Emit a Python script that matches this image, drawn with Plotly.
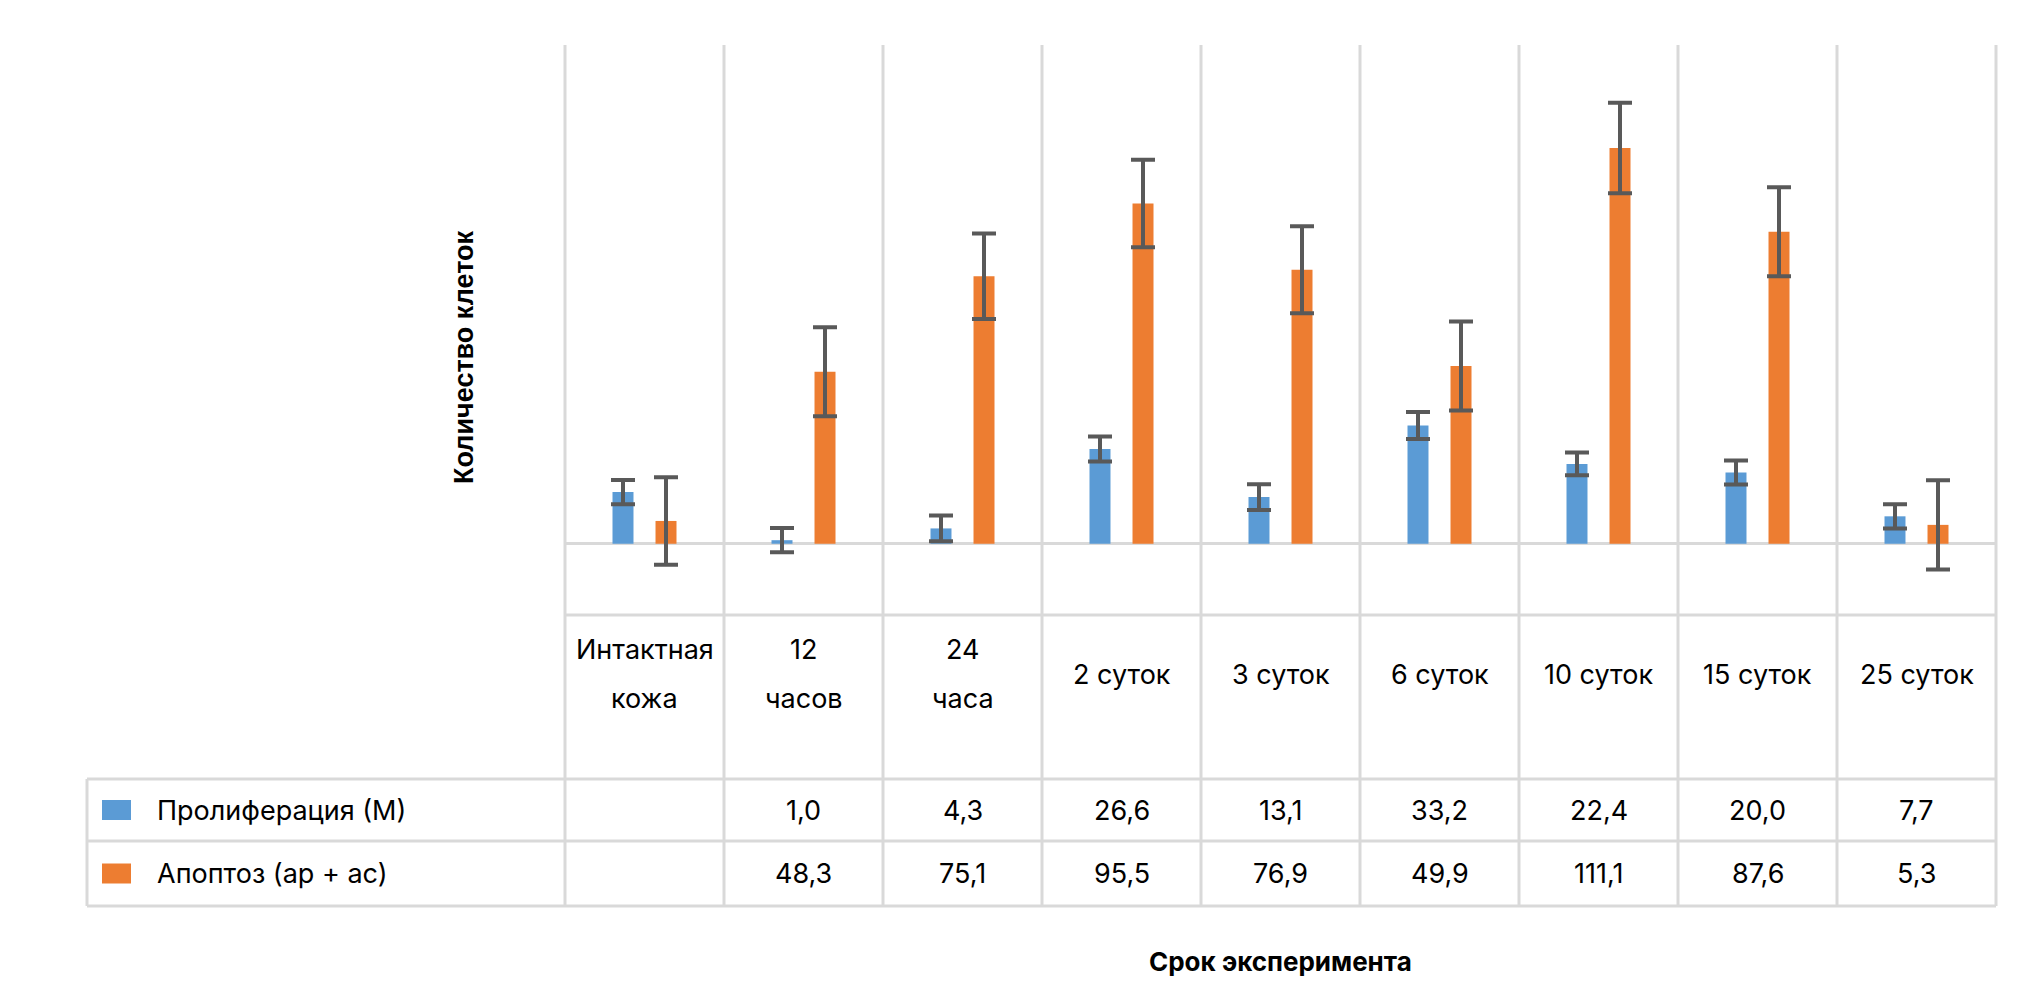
import plotly.graph_objects as go

# ---------------- data ----------------
category_lines = [["Интактная", "кожа"], ["12", "часов"], ["24", "часа"], ["2 суток"],
                  ["3 суток"], ["6 суток"], ["10 суток"], ["15 суток"], ["25 суток"]]
categories = [" ".join(c) for c in category_lines]

series_names = ["Пролиферация (М)", "Апоптоз (ар + ас)"]
proliferation = [14.5, 1.0, 4.3, 26.6, 13.1, 33.2, 22.4, 20.0, 7.7]
apoptosis = [6.4, 48.3, 75.1, 95.5, 76.9, 49.9, 111.1, 87.6, 5.3]
proliferation_err = [3.4, 3.4, 3.6, 3.5, 3.6, 3.8, 3.2, 3.4, 3.4]
apoptosis_err = [12.3, 12.5, 12.0, 12.3, 12.2, 12.5, 12.7, 12.5, 12.5]
table_blank = [True, False, False, False, False, False, False, False, False]

colors = ["#5B9BD5", "#ED7D31"]
err_color = "#595959"
grid_color = "#D9D9D9"
FONT = "Inter, Roboto, Liberation Sans, Arial, sans-serif"

# ---------------- layout geometry (pixels in the 2020x988 frame) ----------------
PAGE_MARGIN = 8  # default browser body margin
W, H = 2020 - PAGE_MARGIN, 988 - PAGE_MARGIN
L, R, T, B = 565, 1996, 45, 615
TABLE_LEFT = 87
ROW_LINES = [779, 841, 906]


def py(Y):
    return (B - Y) / (B - T)


def px(X):
    return (X - L) / (R - L)


fig = go.Figure()
for name, vals, errs, col in [(series_names[0], proliferation, proliferation_err, colors[0]),
                              (series_names[1], apoptosis, apoptosis_err, colors[1])]:
    fig.add_trace(go.Bar(
        x=categories, y=vals, name=name, marker=dict(color=col, line=dict(width=0)),
        error_y=dict(type="data", array=errs, visible=True, color=err_color,
                     thickness=4, width=12),
        showlegend=False,
    ))

shapes = []
n = len(categories)
line_style = dict(color=grid_color, width=3)
for k in range(n + 1):
    shapes.append(dict(type="line", xref="paper", yref="paper", x0=k / n, x1=k / n,
                       y0=py(T), y1=py(ROW_LINES[-1]), line=line_style, layer="below"))
shapes.append(dict(type="line", xref="paper", yref="paper", x0=px(TABLE_LEFT), x1=px(TABLE_LEFT),
                   y0=py(ROW_LINES[0]), y1=py(ROW_LINES[-1]), line=line_style, layer="below"))
shapes.append(dict(type="line", xref="paper", yref="paper", x0=0, x1=1, y0=0, y1=0,
                   line=line_style, layer="below"))
for yl in ROW_LINES:
    shapes.append(dict(type="line", xref="paper", yref="paper", x0=px(TABLE_LEFT), x1=1,
                       y0=py(yl), y1=py(yl), line=line_style, layer="below"))

annotations = []
text_font = dict(family=FONT, size=27, color="#000")
for cat, lines in zip(categories, category_lines):
    ys = [674] if len(lines) == 1 else [649, 698]
    for txt, yy in zip(lines, ys):
        annotations.append(dict(x=cat, xref="x", y=py(yy), yref="paper", text=txt,
                                showarrow=False, xanchor="center", yanchor="middle",
                                font=text_font))

row_centers = [(ROW_LINES[0] + ROW_LINES[1]) / 2, (ROW_LINES[1] + ROW_LINES[2]) / 2]
for ri, (name, vals, col) in enumerate([(series_names[0], proliferation, colors[0]),
                                        (series_names[1], apoptosis, colors[1])]):
    yc = row_centers[ri]
    shapes.append(dict(type="rect", xref="paper", yref="paper",
                       x0=px(102), x1=px(131), y0=py(yc - 10), y1=py(yc + 10),
                       fillcolor=col, line=dict(width=0)))
    annotations.append(dict(x=px(155), xref="paper", y=py(yc), yref="paper", text=name,
                            showarrow=False, xanchor="left", yanchor="middle",
                            font=text_font))
    for cat, v, blank in zip(categories, vals, table_blank):
        if blank:
            continue
        annotations.append(dict(x=cat, xref="x", y=py(yc), yref="paper",
                                text=f"{v:.1f}".replace(".", ","),
                                showarrow=False, xanchor="center", yanchor="middle",
                                font=text_font))

annotations.append(dict(x=0.5, xref="paper", y=py(961), yref="paper", text="<b>Срок эксперимента</b>",
                        showarrow=False, xanchor="center", yanchor="middle",
                        font=dict(family=FONT, size=26, color="#000")))
annotations.append(dict(x=px(464), xref="paper", y=py(357), yref="paper", text="<b>Количество клеток</b>",
                        showarrow=False, xanchor="center", yanchor="middle", textangle=-90,
                        font=dict(family="Liberation Sans, Arial, sans-serif", size=27, color="#000")))

fig.update_layout(
    width=W, height=H,
    margin=dict(l=L - PAGE_MARGIN, r=2020 - R, t=T - PAGE_MARGIN, b=988 - B, autoexpand=False),
    paper_bgcolor="white", plot_bgcolor="white",
    barmode="group", bargap=0.459, bargroupgap=0.512,
    xaxis=dict(type="category", showticklabels=False, showgrid=False, showline=False,
               ticks="", zeroline=False, range=[-0.5, n - 0.5]),
    yaxis=dict(range=[-20, 140], showticklabels=False, showgrid=False, showline=False,
               ticks="", zeroline=True, zerolinecolor=grid_color, zerolinewidth=3),
    shapes=shapes, annotations=annotations,
)

fig.write_html("out.html")
